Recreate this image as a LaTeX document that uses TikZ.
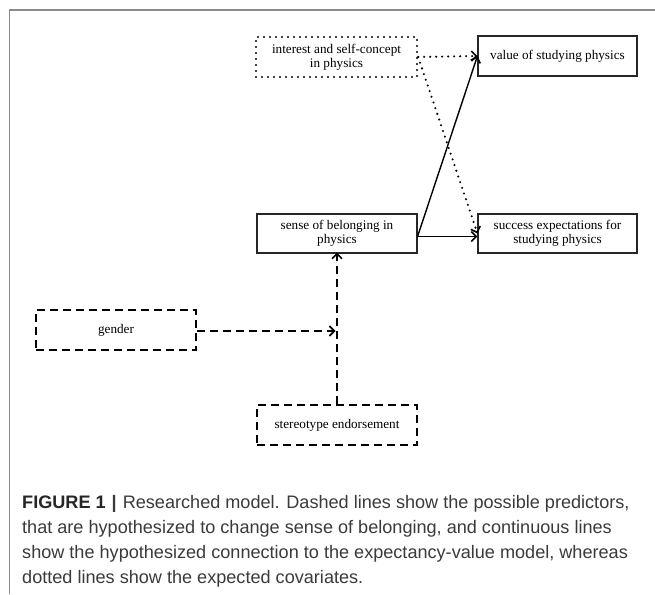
\documentclass[tikz,border=0pt]{standalone}
\usepackage{fontspec}
\setmainfont{Liberation Serif}
\newfontfamily\capfont{Liberation Sans}
\usetikzlibrary{arrows.meta}
\definecolor{framegray}{HTML}{8A8A8A}
\definecolor{captext}{HTML}{3A3A3A}
\tikzset{
  boxbase/.style={minimum width=160pt, minimum height=40pt, inner sep=0pt, align=center,
    font=\fontsize{13.2}{13.8}\selectfont, text=black},
  solidbox/.style={boxbase, draw=black!85, line width=1.1pt},
  dashbox/.style={boxbase, draw=black, line width=1.5pt, dash pattern=on 8pt off 5pt},
  dotbox/.style={boxbase, draw=black, line width=2.3pt, line cap=round, dash pattern=on 0pt off 6pt},
  tip/.style={-{Straight Barb[length=5pt,width=10pt,line width=1.6pt]}},
  solidarrow/.style={tip, line width=1.4pt},
  dasharrow/.style={tip, line width=1.5pt, dash pattern=on 8pt off 5pt},
  dotarrow/.style={tip, line width=2.3pt, line cap=round, dash pattern=on 0pt off 6pt},
  capline/.style={anchor=base west, inner sep=0pt, text=captext, font=\capfont\fontsize{18.1}{20}\selectfont},
}
\begin{document}
\begin{tikzpicture}[x=1pt, y=-1pt]
\useasboundingbox (0,0) rectangle (655,594);
% frame
\draw[framegray, line width=1.3pt] (9.5,594) -- (9.5,10) -- (655,10);
% nodes
\node[dotbox, minimum width=161pt] (interest) at (336.5,57) {interest and self-concept\\in physics};
\node[solidbox, minimum width=159pt] (value) at (557.5,56) {value of studying physics};
\node[solidbox, minimum height=39pt] (sense) at (337,233.5) {sense of belonging in\\physics};
\node[solidbox, minimum width=159pt, minimum height=39pt] (success) at (557.5,233.5) {success expectations for\\studying physics};
\node[dashbox] (gender) at (116,330) {gender};
\node[dashbox] (stereo) at (337,425) {stereotype endorsement};
\coordinate (j) at (337,331);
% connectors
\draw[dotarrow] (interest.east) -- (value.west);
\draw[dotarrow] (interest.east) -- (success.west);
\draw[solidarrow] ([yshift=-3pt]sense.east) -- (value.west);
\draw[solidarrow] ([yshift=-3pt]sense.east) -- ([yshift=-3pt]success.west);
\draw[dasharrow, shorten >=2pt] (stereo.north) -- ([yshift=3pt]sense.south);
\draw[dasharrow, shorten >=1.5pt] (gender.east |- j) -- (j);
% caption
\node[capline] (c1) at (22,508) {\textbf{\color{black!85}FIGURE 1}\,\,\textbf{|}\,\,Researched model. Dashed lines show the possible predictors,};
\node[capline] (c2) at (22,533) {that are hypothesized to change sense of belonging, and continuous lines};
\node[capline] (c3) at (22,558) {show the hypothesized connection to the expectancy-value model, whereas};
\node[capline] (c4) at (22,583) {dotted lines show the expected covariates.};
\end{tikzpicture}
\end{document}
